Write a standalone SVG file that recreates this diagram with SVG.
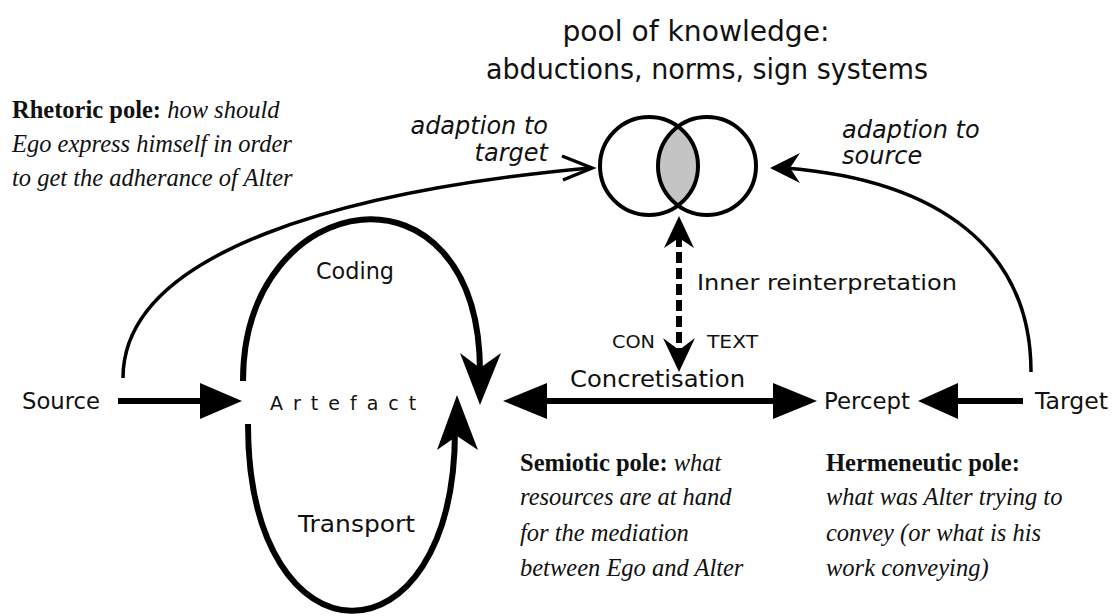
<svg xmlns="http://www.w3.org/2000/svg" width="1115" height="616" viewBox="0 0 1115 616">
<defs>
<style>
.sans{font-family:"DejaVu Sans","Liberation Sans",sans-serif;fill:#111}
.ital{font-family:"DejaVu Sans","Liberation Sans",sans-serif;font-style:italic;fill:#111}
.serif{font-family:"Liberation Serif","DejaVu Serif",serif;font-style:italic;fill:#111;font-size:24.5px}
.serif .b{font-weight:bold;font-style:normal}
.thick{fill:none;stroke:#000;stroke-width:6}
.thin{fill:none;stroke:#000;stroke-width:3.5}
.head{fill:#000;stroke:none}
</style>
</defs>
<rect width="1115" height="616" fill="#fff"/>

<g id="pool">
<text class="sans" x="696" y="41" font-size="28" text-anchor="middle" textLength="267" lengthAdjust="spacingAndGlyphs">pool of knowledge:</text>
<text class="sans" x="707" y="79" font-size="27.5" text-anchor="middle" textLength="442" lengthAdjust="spacingAndGlyphs">abductions, norms, sign systems</text>
<path d="M678,127 A49,49 0 0 1 678,205 A49,49 0 0 1 678,127 Z" fill="#c4c4c4" stroke="none"/>
<circle cx="649" cy="166" r="49" fill="none" stroke="#000" stroke-width="4"/>
<circle cx="707" cy="166" r="49" fill="none" stroke="#000" stroke-width="4"/>
</g>

<g id="rhetoric">
<text class="serif" x="12" y="118"><tspan class="b">Rhetoric pole: </tspan>how should</text>
<text class="serif" x="12" y="152">Ego express himself in order</text>
<text class="serif" x="12" y="186">to get the adherance of Alter</text>
</g>

<g id="adapt-target">
<text class="ital" x="548" y="134" font-size="24" text-anchor="end">adaption to</text>
<text class="ital" x="548" y="161" font-size="24" text-anchor="end">target</text>
</g>
<g id="adapt-source">
<text class="ital" x="842" y="138" font-size="24">adaption to</text>
<text class="ital" x="842" y="164" font-size="24">source</text>
</g>

<g id="source"><text class="sans" x="22" y="409" font-size="22.5" textLength="78" lengthAdjust="spacingAndGlyphs">Source</text></g>
<g id="artefact"><text class="sans" x="270" y="410" font-size="19" letter-spacing="10">Artefact</text></g>
<g id="percept"><text class="sans" x="824" y="409" font-size="22.5" textLength="86" lengthAdjust="spacingAndGlyphs">Percept</text></g>
<g id="target"><text class="sans" x="1035" y="409" font-size="22.5" textLength="73" lengthAdjust="spacingAndGlyphs">Target</text></g>

<g id="labels">
<text class="sans" x="316" y="279" font-size="22.5" textLength="78" lengthAdjust="spacingAndGlyphs">Coding</text>
<text class="sans" x="298" y="532" font-size="22.5" textLength="117" lengthAdjust="spacingAndGlyphs">Transport</text>
<text class="sans" x="697" y="290" font-size="22" textLength="260" lengthAdjust="spacingAndGlyphs">Inner reinterpretation</text>
<text class="sans" x="612" y="348" font-size="18" textLength="43" lengthAdjust="spacingAndGlyphs">CON</text>
<text class="sans" x="707" y="348" font-size="18" textLength="51" lengthAdjust="spacingAndGlyphs">TEXT</text>
<text class="sans" x="570" y="387" font-size="22.5" textLength="175" lengthAdjust="spacingAndGlyphs">Concretisation</text>
</g>

<g id="semiotic">
<text class="serif" x="520" y="471"><tspan class="b">Semiotic pole: </tspan>what</text>
<text class="serif" x="520" y="505">resources are at hand</text>
<text class="serif" x="520" y="541">for the mediation</text>
<text class="serif" x="520" y="576">between Ego and Alter</text>
</g>

<g id="hermeneutic">
<text class="serif" x="826" y="471"><tspan class="b">Hermeneutic pole:</tspan></text>
<text class="serif" x="826" y="505">what was Alter trying to</text>
<text class="serif" x="826" y="541">convey (or what is his</text>
<text class="serif" x="826" y="576">work conveying)</text>
</g>

<g id="connectors">
<line class="thick" x1="118" y1="401" x2="205" y2="401"/>
<polygon class="head" points="242,401 200,383 200,419"/>
<line class="thick" x1="1023" y1="401" x2="955" y2="401"/>
<polygon class="head" points="918,401 958,383 958,419"/>
<line class="thick" x1="540" y1="401" x2="780" y2="401"/>
<polygon class="head" points="503,401 547,383 547,419"/>
<polygon class="head" points="817,401 773,383 773,419"/>
<path class="thick" d="M243,381 C243,185 480,150 480,372"/>
<polygon class="head" points="480,405 460,353 480,368 501,353"/>
<path class="thick" d="M248,424 C248,672 455,672 455,430"/>
<polygon class="head" points="457,395 437,450 457,436 478,450"/>
<line x1="679" y1="236" x2="679" y2="352" stroke="#000" stroke-width="6" stroke-dasharray="11,5"/>
<polygon class="head" points="679,216 664,248 679,238 694,248"/>
<polygon class="head" points="679,372 663,338 679,350 695,338"/>
<path class="thin" d="M123,378 C123,250 350,190 590,168"/>
<polyline class="thin" points="562,156 592,168 563,180"/>
<path class="thin" d="M1031,372 C1031,250 940,180 785,168"/>
<polygon class="head" points="770,168 800,153 790,168 800,183"/>
</g>
</svg>
